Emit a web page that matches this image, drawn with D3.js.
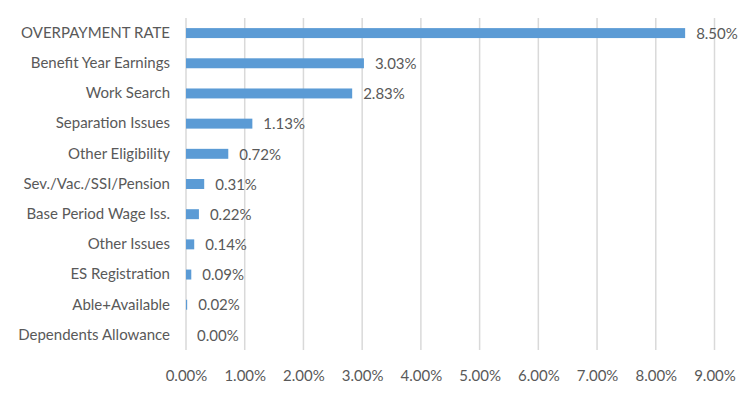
<!DOCTYPE html>
<html>
<head>
<meta charset="utf-8">
<script src="https://cdn.jsdelivr.net/npm/d3@7"></script>
<style>
  body { margin: 0; background: #fff; }
  text { font-family: Lato, "Open Sans", sans-serif; fill: #595959; }
</style>
</head>
<body>
<div class="graph"></div>
<script>
const categories = ["OVERPAYMENT RATE", "Benefit Year Earnings", "Work Search", "Separation Issues",
  "Other Eligibility", "Sev./Vac./SSI/Pension", "Base Period Wage Iss.", "Other Issues",
  "ES Registration", "Able+Available", "Dependents Allowance"];
const values = [8.50, 3.03, 2.83, 1.13, 0.72, 0.31, 0.22, 0.14, 0.09, 0.02, 0.00];
const ticks = [0, 1, 2, 3, 4, 5, 6, 7, 8, 9];

const width = 750, height = 397;
const plotLeft = 186, plotRight = 714.5, plotTop = 18, plotBottom = 350;
const fontSize = 15;

const svg = d3.select(".graph").append("svg")
  .attr("width", width)
  .attr("height", height);

const x = d3.scaleLinear().domain([0, 9]).range([plotLeft, plotRight]);
const y = d3.scaleBand().domain(categories).range([plotTop, plotBottom]).paddingInner(0.67).paddingOuter(0.335);

//Gridlines
svg.append("g").selectAll("line")
  .data(ticks)
  .join("line")
  .attr("x1", d => x(d)).attr("x2", d => x(d))
  .attr("y1", plotTop).attr("y2", plotBottom)
  .attr("stroke", "#d9d9d9").attr("stroke-width", 1.5);

//Bars
svg.append("g").selectAll("rect")
  .data(values)
  .join("rect")
  .attr("x", x(0))
  .attr("y", (d, i) => y(categories[i]))
  .attr("width", d => x(d) - x(0))
  .attr("height", y.bandwidth())
  .attr("fill", "#5b9bd5");

//Value labels
svg.append("g").selectAll("text")
  .data(values)
  .join("text")
  .attr("x", d => x(d) + 11)
  .attr("y", (d, i) => y(categories[i]) + y.bandwidth() / 2)
  .attr("dy", "0.38em")
  .attr("font-size", fontSize)
  .text(d => d.toFixed(2) + "%");

//Category axis
svg.append("g")
  .attr("transform", "translate(" + (plotLeft - 16) + ",0)")
  .call(d3.axisLeft(y).tickSize(0).tickPadding(0))
  .call(g => g.select(".domain").remove())
  .selectAll("text")
  .attr("font-size", fontSize)
  .style("font-family", "Lato, 'Open Sans', sans-serif")
  .attr("fill", "#595959");

//Value axis
svg.append("g")
  .attr("transform", "translate(0," + plotBottom + ")")
  .call(d3.axisBottom(x).tickValues(ticks).tickSize(0).tickPadding(20).tickFormat(d => d.toFixed(2) + "%"))
  .call(g => g.select(".domain").remove())
  .selectAll("text")
  .attr("font-size", fontSize)
  .style("font-family", "Lato, 'Open Sans', sans-serif")
  .attr("fill", "#595959");
</script>
</body>
</html>
